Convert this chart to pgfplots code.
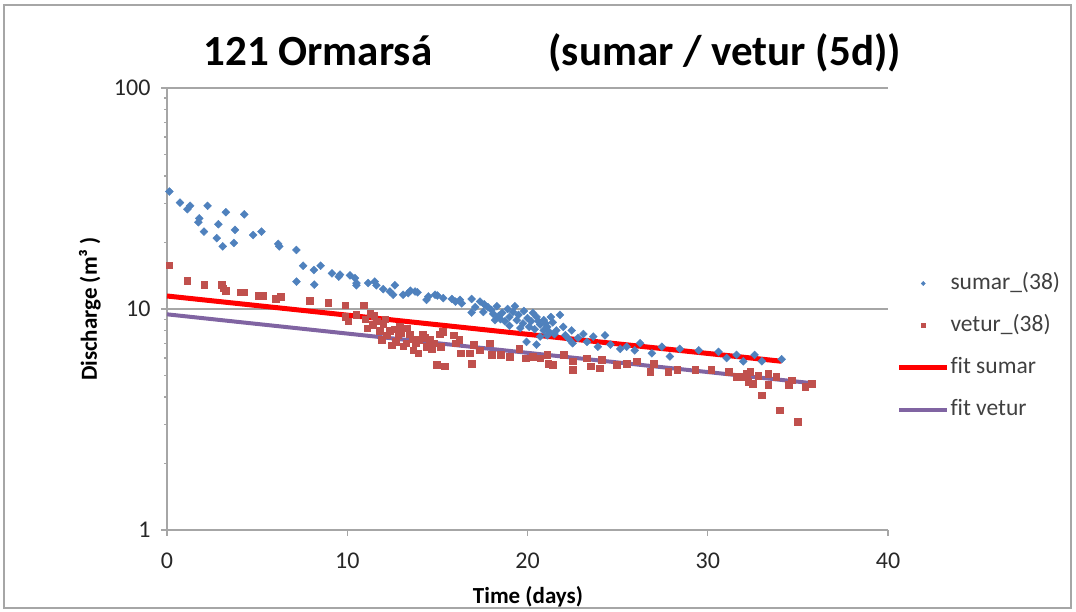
\documentclass[border=0pt]{standalone}
\usepackage{fontspec}
\setmainfont{Carlito}[Ligatures=CommonOff]
\usepackage{pgfplots}
\pgfplotsset{compat=1.18}
\definecolor{xlblue}{HTML}{4F81BD}
\definecolor{xlred}{HTML}{C0504D}
\definecolor{xlpurple}{HTML}{8064A2}
\definecolor{gridgray}{HTML}{A6A6A6}
\definecolor{txtgray}{HTML}{404040}
\pgfplotsset{
  markleg/.style={legend image code/.code={\draw[##1, mark size=#1] plot coordinates {(24pt,0pt)}; \path (0pt,0pt) (48pt,0pt);}},
  lineleg/.style={legend image code/.code={\draw[##1, line width=#1] (0pt,0pt) -- (48pt,0pt);}},
}
\begin{document}
\begin{tikzpicture}[x=1pt,y=1pt]
\useasboundingbox (0,0) rectangle (1076,612);
\draw[gridgray, line width=1.5pt] (4,4) rectangle (1071,607);
\begin{axis}[
  at={(167pt,82pt)}, anchor=south west,
  scale only axis, width=721pt, height=442pt,
  xmin=0, xmax=40, ymin=1, ymax=100, ymode=log,
  axis x line=bottom, axis y line=left,
  axis line style={-, gridgray, line width=1.5pt},
  xtick={0,10,20,30,40}, xticklabels={0,10,20,30,40},
  ytick={1,10,100}, yticklabels={1,10,100},
  minor ytick={}, minor xtick={},
  ymajorgrids, grid style={gridgray, line width=1.5pt},
  tick align=outside, major tick length=6pt,
  tick style={gridgray, line width=1.2pt},
  ticklabel style={font=\fontsize{24}{24}\selectfont, text=txtgray!60!black},
  yticklabel style={xshift=-7pt},
  xticklabel style={yshift=-13pt},
  clip=false,
  legend style={draw=none, fill=none, inner sep=0pt, outer sep=0pt,
    at={(1.0125,0.415)}, anchor=west, row sep=17pt,
    font=\fontsize{23.5}{23.5}\selectfont, text=txtgray,
    nodes={text height=17pt, text depth=6pt, inner sep=1pt, anchor=west}},
  legend cell align=left,
]
\addplot[only marks, mark=square*, mark options={rotate=45, fill=xlblue, draw=xlblue}, mark size=2.8pt, markleg=1.5pt]
 coordinates {
(0.13,34.0)(0.72,30.3)(1.13,28.3)(1.28,29.3)(1.74,24.7)(1.79,25.7)(2.05,22.4)(2.25,29.3)
(2.76,20.9)(2.85,24.2)(3.09,19.2)(3.27,27.4)(3.71,19.9)(3.77,22.8)(4.29,26.8)(4.78,21.6)
(5.24,22.4)(6.17,19.7)(6.23,19.2)(7.18,18.5)(7.18,13.3)(7.55,15.7)(8.15,15.0)(8.17,12.9)
(8.52,15.7)(9.15,14.5)(9.53,14.0)(9.6,14.3)(10.15,14.2)(10.43,13.8)(10.51,13.1)(10.51,12.8)
(11.16,13.1)(11.53,13.3)(11.62,12.8)(12.0,12.3)(12.36,12.0)(12.55,11.6)(12.64,12.8)(13.1,11.6)
(13.38,11.8)(13.5,12.1)(13.76,12.0)(13.9,11.9)(14.4,11.0)(14.5,11.4)(14.87,11.6)(15.0,11.5)
(15.33,11.2)(15.8,11.1)(16.0,10.8)(16.25,11.0)(16.35,10.6)(16.9,11.1)(16.9,9.63)(17.1,10.2)
(17.37,10.8)(17.55,9.7)(17.6,10.5)(17.8,10.2)(18.0,9.9)(18.1,9.5)(18.2,8.9)(18.3,10.3)
(18.4,9.3)(18.5,9.0)(18.6,9.6)(18.75,8.8)(18.9,10.0)(19.0,9.2)(19.0,8.4)(19.2,9.7)
(19.3,10.3)(19.4,8.9)(19.5,9.4)(19.6,8.2)(19.75,8.6)(19.8,9.8)(19.95,7.1)(20.0,9.1)
(20.1,8.3)(20.2,8.8)(20.3,9.6)(20.4,8.1)(20.5,9.2)(20.5,6.9)(20.6,8.8)(20.7,8.5)
(20.7,7.5)(20.9,8.0)(20.9,8.9)(21.0,8.6)(21.1,8.3)(21.1,7.6)(21.2,7.9)(21.3,9.2)
(21.4,8.7)(21.5,7.7)(21.6,8.0)(21.8,9.4)(21.98,8.3)(22.1,7.6)(22.3,7.3)(22.45,8.0)
(22.5,7.0)(22.8,7.4)(23.1,7.7)(23.3,7.1)(23.65,7.5)(23.9,6.75)(24.3,7.6)(24.6,6.9)
(25.15,6.6)(25.5,6.75)(25.95,6.5)(26.25,7.0)(26.9,6.3)(27.45,6.75)(27.9,6.1)(28.45,6.6)
(29.5,6.5)(30.6,6.4)(31.05,6.0)(31.6,6.2)(31.97,5.8)(32.6,6.2)(33.0,5.8)(34.1,5.93)
};
\addlegendentry{sumar\_(38)}
\addplot[only marks, mark=square*, mark options={fill=xlred, draw=xlred}, mark size=3.3pt, markleg=2pt]
 coordinates {
(0.13,15.8)(1.13,13.4)(2.07,12.9)(3.03,12.9)(3.12,12.4)(3.27,12.1)(4.05,11.9)(4.27,11.9)
(5.07,11.5)(5.3,11.5)(6.04,11.1)(6.3,11.4)(7.93,10.9)(8.95,10.7)(9.88,10.4)(9.88,9.2)
(10.06,8.8)(10.5,9.4)(10.9,10.4)(11.0,9.0)(11.1,8.2)(11.27,9.55)(11.4,8.5)(11.5,9.3)
(11.62,8.8)(11.8,8.0)(11.9,7.24)(12.0,8.6)(12.1,9.0)(12.2,7.6)(12.36,8.0)(12.45,6.87)
(12.6,8.1)(12.7,7.1)(12.82,7.6)(12.9,8.3)(13.0,7.8)(13.1,6.8)(13.28,7.0)(13.3,8.2)
(13.47,7.7)(13.6,7.3)(13.65,6.52)(13.8,7.0)(13.93,6.3)(14.0,7.24)(14.2,7.7)(14.3,7.4)
(14.4,6.75)(14.57,7.24)(14.7,6.6)(14.8,7.0)(14.95,5.58)(15.13,7.7)(15.2,6.75)(15.3,7.9)
(15.4,5.5)(15.9,7.6)(16.0,7.0)(16.2,7.24)(16.3,6.3)(16.8,6.3)(16.9,5.67)(17.0,6.9)
(17.35,6.5)(17.9,7.0)(18.0,6.2)(18.5,6.2)(19.0,6.1)(19.55,6.6)(19.9,6.0)(20.3,6.1)
(20.7,6.0)(21.1,6.2)(21.15,5.67)(21.4,5.58)(22.0,6.2)(22.5,5.8)(22.5,5.3)(23.3,6.0)
(23.5,5.5)(24.0,5.4)(24.1,5.9)(24.95,5.58)(25.5,5.67)(26.05,5.8)(26.8,5.2)(27.0,5.67)
(27.8,5.2)(28.3,5.3)(29.3,5.3)(30.2,5.3)(31.15,5.2)(31.6,4.93)(31.97,4.93)(32.15,5.1)
(32.25,4.7)(32.35,5.2)(32.5,4.6)(32.8,5.0)(33.0,4.08)(33.35,5.1)(33.35,4.53)(33.8,4.93)
(34.0,3.49)(34.5,4.53)(34.65,4.77)(35.0,3.09)(35.4,4.45)(35.75,4.6)
};
\addlegendentry{vetur\_(38)}
\addplot[no marks, color=red, line width=5pt, lineleg=4.5pt]
 coordinates {(0,11.45)(34.1,5.8)};
\addlegendentry{fit sumar}
\addplot[no marks, color=xlpurple, line width=4pt, lineleg=4pt]
 coordinates {(0,9.46)(35.85,4.61)};
\addlegendentry{fit vetur}
\end{axis}
\node[anchor=base west, font=\bfseries\fontsize{43}{43}\selectfont] at (200,546) {121 Ormarsá};
\node[anchor=base west, font=\bfseries\fontsize{43}{43}\selectfont] at (545,546) {(sumar / vetur (5d))};
\node[rotate=90, font=\bfseries\fontsize{23}{23}\selectfont] at (90,303) {Discharge (m³ )};
\node[font=\bfseries\fontsize{23}{23}\selectfont] at (528,15) {Time (days)};
\end{tikzpicture}
\end{document}
